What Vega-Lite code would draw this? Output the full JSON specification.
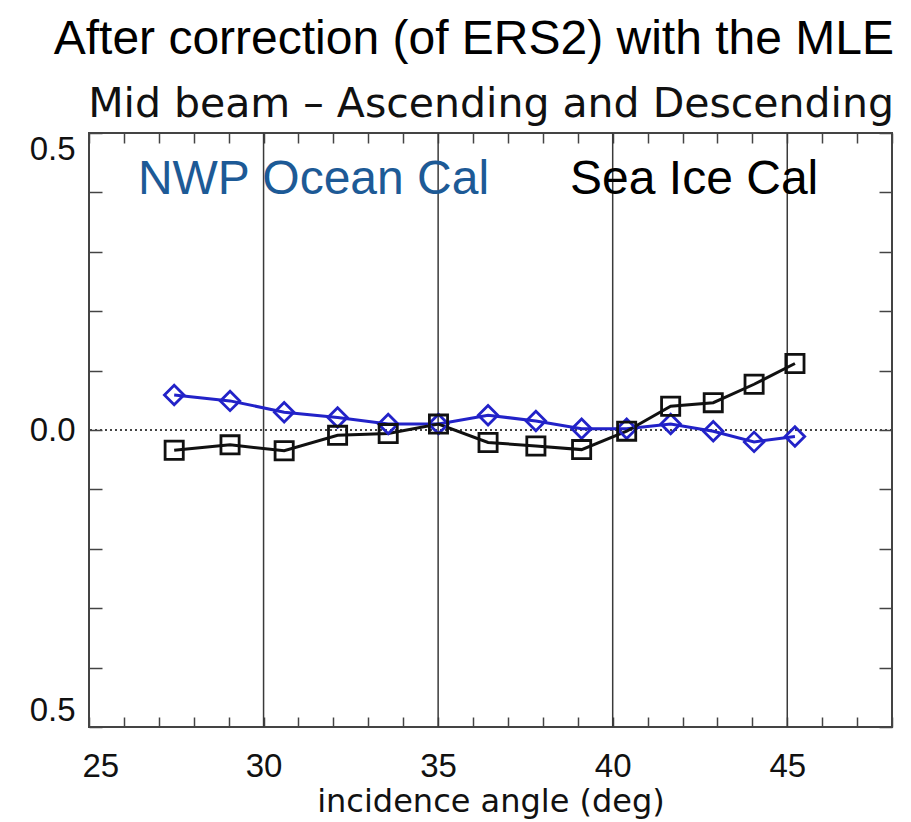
{
  "$schema": "https://vega.github.io/schema/vega-lite/v6.json",
  "width": 803,
  "height": 594,
  "autosize": {"type": "none"},
  "padding": {"left": 89, "top": 133, "right": 19, "bottom": 95},
  "background": "white",
  "config": {"view": {"stroke": "#444444", "strokeWidth": 2}},
  "title": {
    "text": "After correction (of ERS2) with the MLE",
    "subtitle": "Mid beam – Ascending and Descending",
    "anchor": "end",
    "dx": -5,
    "font": "Liberation Sans",
    "fontSize": 48,
    "fontWeight": "normal",
    "color": "#000000",
    "subtitleFont": "DejaVu Sans",
    "subtitleFontSize": 41,
    "subtitleColor": "#111111",
    "subtitlePadding": 21,
    "offset": 7
  },
  "datasets": {
    "series": [
      {"angle": 27.44, "value": 0.059, "series": "NWP Ocean Cal"},
      {"angle": 29.04, "value": 0.049, "series": "NWP Ocean Cal"},
      {"angle": 30.59, "value": 0.030, "series": "NWP Ocean Cal"},
      {"angle": 32.12, "value": 0.021, "series": "NWP Ocean Cal"},
      {"angle": 33.57, "value": 0.010, "series": "NWP Ocean Cal"},
      {"angle": 35.01, "value": 0.010, "series": "NWP Ocean Cal"},
      {"angle": 36.43, "value": 0.025, "series": "NWP Ocean Cal"},
      {"angle": 37.80, "value": 0.015, "series": "NWP Ocean Cal"},
      {"angle": 39.11, "value": 0.002, "series": "NWP Ocean Cal"},
      {"angle": 40.40, "value": 0.002, "series": "NWP Ocean Cal"},
      {"angle": 41.66, "value": 0.010, "series": "NWP Ocean Cal"},
      {"angle": 42.88, "value": -0.002, "series": "NWP Ocean Cal"},
      {"angle": 44.05, "value": -0.020, "series": "NWP Ocean Cal"},
      {"angle": 45.22, "value": -0.011, "series": "NWP Ocean Cal"},
      {"angle": 27.44, "value": -0.034, "series": "Sea Ice Cal"},
      {"angle": 29.04, "value": -0.025, "series": "Sea Ice Cal"},
      {"angle": 30.59, "value": -0.035, "series": "Sea Ice Cal"},
      {"angle": 32.12, "value": -0.009, "series": "Sea Ice Cal"},
      {"angle": 33.57, "value": -0.006, "series": "Sea Ice Cal"},
      {"angle": 35.01, "value": 0.010, "series": "Sea Ice Cal"},
      {"angle": 36.43, "value": -0.021, "series": "Sea Ice Cal"},
      {"angle": 37.80, "value": -0.027, "series": "Sea Ice Cal"},
      {"angle": 39.11, "value": -0.033, "series": "Sea Ice Cal"},
      {"angle": 40.40, "value": -0.002, "series": "Sea Ice Cal"},
      {"angle": 41.66, "value": 0.040, "series": "Sea Ice Cal"},
      {"angle": 42.88, "value": 0.046, "series": "Sea Ice Cal"},
      {"angle": 44.05, "value": 0.077, "series": "Sea Ice Cal"},
      {"angle": 45.22, "value": 0.112, "series": "Sea Ice Cal"}
    ],
    "grid": [{"g": 30}, {"g": 35}, {"g": 40}, {"g": 45}],
    "zero": [{"z": 0}],
    "labels": [
      {"x": 26.40, "y": 0.397, "text": "NWP Ocean Cal"},
      {"x": 38.78, "y": 0.397, "text": "Sea Ice Cal"}
    ]
  },
  "resolve": {
    "axis": {"x": "independent", "y": "independent"},
    "scale": {"color": "independent"}
  },
  "layer": [
    {
      "data": {"name": "grid"},
      "mark": {"type": "rule", "color": "#3a3a3a", "strokeWidth": 1.5},
      "encoding": {
        "x": {
          "field": "g", "type": "quantitative",
          "scale": {"domain": [25, 48], "nice": false, "zero": false},
          "axis": {
            "orient": "bottom",
            "values": [25,26,27,28,29,30,31,32,33,34,35,36,37,38,39,40,41,42,43,44,45,46,47,48],
            "labelExpr": "datum.value % 5 == 0 ? datum.label : ''",
            "labelOverlap": false,
            "labelFlush": true,
            "labelFlushOffset": 7,
            "labelFont": "Liberation Sans",
            "labelFontSize": 33,
            "labelColor": "#111111",
            "labelPadding": 33,
            "tickSize": -10,
            "tickColor": "#444444",
            "tickWidth": 1.5,
            "domain": false,
            "grid": false,
            "title": "incidence angle (deg)",
            "titleFont": "DejaVu Sans",
            "titleFontSize": 32,
            "titleFontWeight": "normal",
            "titleColor": "#111111",
            "titlePadding": 3
          }
        }
      }
    },
    {
      "data": {"name": "zero"},
      "mark": {"type": "rule", "color": "#444444", "strokeWidth": 2, "strokeDash": [2, 3]},
      "encoding": {
        "y": {
          "field": "z", "type": "quantitative",
          "scale": {"domain": [-0.5, 0.5], "nice": false, "zero": false},
          "axis": {
            "orient": "left",
            "values": [-0.5,-0.4,-0.3,-0.2,-0.1,0,0.1,0.2,0.3,0.4,0.5],
            "labelExpr": "datum.value == 0 ? '0.0' : (abs(datum.value) > 0.45 ? '0.5' : '')",
            "labelOverlap": false,
            "labelFlush": true,
            "labelFont": "Liberation Sans",
            "labelFontSize": 33,
            "labelColor": "#111111",
            "labelPadding": 27,
            "tickSize": -13,
            "tickColor": "#444444",
            "tickWidth": 1.5,
            "domain": false,
            "grid": false,
            "title": null
          }
        }
      }
    },
    {
      "data": {"name": "series"},
      "mark": {"type": "line", "strokeWidth": 3},
      "encoding": {
        "x": {
          "field": "angle", "type": "quantitative",
          "scale": {"domain": [25, 48], "nice": false, "zero": false},
          "axis": {
            "orient": "top",
            "values": [25,26,27,28,29,30,31,32,33,34,35,36,37,38,39,40,41,42,43,44,45,46,47,48],
            "labels": false, "tickSize": -10, "tickColor": "#444444", "tickWidth": 1.5,
            "domain": false, "grid": false, "title": null
          }
        },
        "y": {
          "field": "value", "type": "quantitative",
          "scale": {"domain": [-0.5, 0.5], "nice": false, "zero": false},
          "axis": {
            "orient": "right",
            "values": [-0.5,-0.4,-0.3,-0.2,-0.1,0,0.1,0.2,0.3,0.4,0.5],
            "labels": false, "tickSize": -13, "tickColor": "#444444", "tickWidth": 1.5,
            "domain": false, "grid": false, "title": null
          }
        },
        "color": {
          "field": "series", "type": "nominal",
          "scale": {"domain": ["NWP Ocean Cal", "Sea Ice Cal"], "range": ["#2222c8", "#111111"]},
          "legend": null
        }
      }
    },
    {
      "data": {"name": "series"},
      "mark": {"type": "point", "filled": false, "strokeWidth": 2.8, "opacity": 1},
      "encoding": {
        "x": {"field": "angle", "type": "quantitative", "axis": null},
        "y": {"field": "value", "type": "quantitative", "axis": null},
        "color": {
          "field": "series", "type": "nominal",
          "scale": {"domain": ["NWP Ocean Cal", "Sea Ice Cal"], "range": ["#2222c8", "#111111"]},
          "legend": null
        },
        "shape": {
          "field": "series", "type": "nominal",
          "scale": {"domain": ["NWP Ocean Cal", "Sea Ice Cal"], "range": ["diamond", "square"]},
          "legend": null
        },
        "size": {
          "field": "series", "type": "nominal",
          "scale": {"domain": ["NWP Ocean Cal", "Sea Ice Cal"], "range": [380, 330]},
          "legend": null
        }
      }
    },
    {
      "data": {"name": "labels"},
      "mark": {"type": "text", "align": "left", "baseline": "alphabetic", "font": "Liberation Sans", "fontSize": 48},
      "encoding": {
        "x": {"field": "x", "type": "quantitative", "axis": null},
        "y": {"field": "y", "type": "quantitative", "axis": null},
        "text": {"field": "text"},
        "color": {
          "field": "text", "type": "nominal",
          "scale": {"domain": ["NWP Ocean Cal", "Sea Ice Cal"], "range": ["#1d5a96", "#000000"]},
          "legend": null
        }
      }
    }
  ]
}
